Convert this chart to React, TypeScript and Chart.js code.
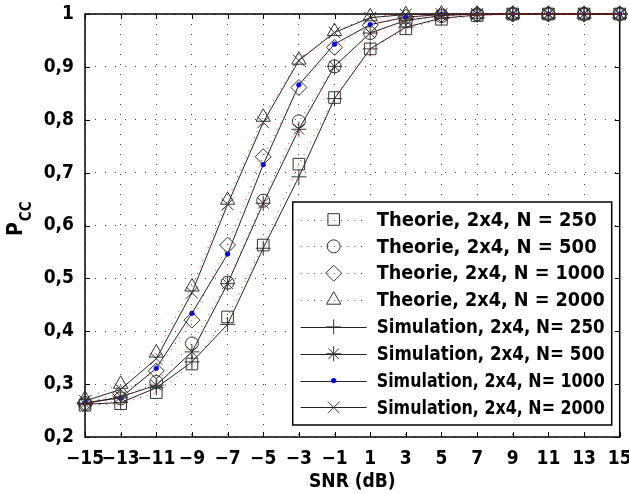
import React, { useEffect, useRef } from 'react';
import { Chart, registerables } from 'chart.js';
import { drawPoint } from 'chart.js/helpers';

Chart.register(...registerables);

// ---------------- data ----------------
const snrDb = [-15, -13, -11, -9, -7, -5, -3, -1, 1, 3, 5, 7, 9, 11, 13, 15];

const theorie250 = [0.260, 0.263, 0.284, 0.338, 0.427, 0.563, 0.716, 0.842, 0.934, 0.972, 0.990, 0.997, 1, 1, 1, 1];
const theorie500 = [0.262, 0.273, 0.304, 0.377, 0.492, 0.647, 0.797, 0.901, 0.964, 0.987, 0.996, 0.999, 1, 1, 1, 1];
const theorie1000 = [0.264, 0.282, 0.325, 0.421, 0.563, 0.730, 0.861, 0.937, 0.979, 0.994, 0.999, 1, 1, 1, 1, 1];
const theorie2000 = [0.272, 0.300, 0.359, 0.484, 0.648, 0.805, 0.913, 0.967, 0.995, 0.999, 1, 1, 1, 1, 1, 1];

const simulation250 = [0.262, 0.265, 0.293, 0.342, 0.413, 0.557, 0.692, 0.840, 0.934, 0.975, 0.992, 0.998, 1, 1, 1, 1];
const simulation500 = [0.263, 0.276, 0.298, 0.361, 0.490, 0.642, 0.782, 0.901, 0.964, 0.988, 0.997, 1, 1, 1, 1, 1];
const simulation1000 = [0.265, 0.274, 0.330, 0.434, 0.546, 0.715, 0.866, 0.943, 0.980, 0.994, 0.999, 1, 1, 1, 1, 1];
const simulation2000 = [0.268, 0.290, 0.348, 0.473, 0.640, 0.795, 0.912, 0.965, 0.993, 0.999, 1, 1, 1, 1, 1, 1];

const xTickValues = [-15, -13, -11, -9, -7, -5, -3, -1, 1, 3, 5, 7, 9, 11, 13, 15];
const yTickValues = [0.2, 0.3, 0.4, 0.5, 0.6, 0.7, 0.8, 0.9, 1];

const legendLabels = [
  'Theorie, 2x4, N = 250',
  'Theorie, 2x4, N = 500',
  'Theorie, 2x4, N = 1000',
  'Theorie, 2x4, N = 2000',
  'Simulation, 2x4, N= 250',
  'Simulation, 2x4, N= 500',
  'Simulation, 2x4, N= 1000',
  'Simulation, 2x4, N= 2000',
];

const xTitle = 'SNR (dB)';
const yTitleMain = 'P';
const yTitleSub = 'CC';

// ---------------- styles ----------------
const FONT = "'Liberation Sans Narrow', 'DejaVu Sans Condensed', 'Arial Narrow', 'Liberation Sans', sans-serif";
const MARK = '#333';

type Marker = { style: any; radius: number; fill: string; stroke: string };
const markers: Marker[] = [
  { style: 'rect', radius: 8.2, fill: 'rgba(0,0,0,0)', stroke: MARK },
  { style: 'circle', radius: 6.5, fill: 'rgba(0,0,0,0)', stroke: MARK },
  { style: 'rectRot', radius: 8, fill: 'rgba(0,0,0,0)', stroke: MARK },
  { style: 'triangle', radius: 8.3, fill: 'rgba(0,0,0,0)', stroke: MARK },
  { style: 'cross', radius: 7.5, fill: 'rgba(0,0,0,0)', stroke: MARK },
  { style: 'star', radius: 7.5, fill: 'rgba(0,0,0,0)', stroke: MARK },
  { style: 'circle', radius: 2.2, fill: '#0000ff', stroke: '#0000ff' },
  { style: 'crossRot', radius: 8.3, fill: 'rgba(0,0,0,0)', stroke: MARK },
];

const seriesValues = [
  theorie250, theorie500, theorie1000, theorie2000,
  simulation250, simulation500, simulation1000, simulation2000,
];

function isTheory(i: number) {
  return i < 4;
}

function fmtX(v: number) {
  return v < 0 ? '\u2212' + Math.abs(v) : String(v);
}
function fmtY(v: number) {
  const r = Math.round(v * 10) / 10;
  return r === 1 ? '1' : r.toFixed(1).replace('.', ',');
}

const decorPlugin = {
  id: 'decor',
  beforeDatasetsDraw(chart: any) {
    const { ctx, chartArea: a, scales } = chart;
    ctx.save();
    ctx.strokeStyle = '#000';
    ctx.lineWidth = 1.5;
    ctx.strokeRect(a.left, a.top, a.right - a.left, a.bottom - a.top);
    ctx.lineWidth = 1;
    ctx.beginPath();
    xTickValues.forEach((v) => {
      const p = Math.round(scales.x.getPixelForValue(v)) + 0.5;
      ctx.moveTo(p, a.bottom);
      ctx.lineTo(p, a.bottom - 5);
      ctx.moveTo(p, a.top);
      ctx.lineTo(p, a.top + 5);
    });
    yTickValues.forEach((v) => {
      const p = Math.round(scales.y.getPixelForValue(v)) + 0.5;
      ctx.moveTo(a.left, p);
      ctx.lineTo(a.left + 5, p);
      ctx.moveTo(a.right, p);
      ctx.lineTo(a.right - 5, p);
    });
    ctx.stroke();
    ctx.restore();
  },
  afterDatasetsDraw(chart: any) {
    const { ctx, chartArea: a } = chart;
    const boxW = 319;
    const boxH = 223;
    const bx = a.right - 8 - boxW;
    const by = a.bottom - 12 - boxH;
    ctx.save();
    ctx.fillStyle = '#fff';
    ctx.fillRect(bx, by, boxW, boxH);
    ctx.strokeStyle = '#000';
    ctx.lineWidth = 1.5;
    ctx.strokeRect(bx, by, boxW, boxH);
    const rowH = 26.85;
    const firstY = by + 17.5;
    const lineX0 = bx + 8;
    const lineX1 = bx + 74;
    const markX = bx + 41;
    const textX = bx + 84;
    legendLabels.forEach((label, i) => {
      const y = firstY + i * rowH;
      ctx.save();
      ctx.beginPath();
      if (isTheory(i)) {
        ctx.strokeStyle = '#555';
        ctx.setLineDash([1, 5.7]);
      } else {
        ctx.strokeStyle = '#222';
        ctx.setLineDash([]);
      }
      ctx.lineWidth = 1;
      ctx.moveTo(lineX0, Math.round(y) + 0.5);
      ctx.lineTo(lineX1, Math.round(y) + 0.5);
      ctx.stroke();
      ctx.setLineDash([]);
      const m = markers[i];
      ctx.fillStyle = m.fill;
      ctx.strokeStyle = m.stroke;
      ctx.lineWidth = 1;
      drawPoint(ctx, { pointStyle: m.style, rotation: 0, radius: m.radius, borderWidth: 1 } as any, markX, y);
      ctx.restore();
      ctx.fillStyle = '#000';
      ctx.font = 'bold 20px ' + FONT;
      ctx.textAlign = 'left';
      ctx.textBaseline = 'middle';
      ctx.fillText(label, textX, y + 1, 228);
    });
    ctx.restore();
  },
  afterDraw(chart: any) {
    const { ctx, chartArea: a } = chart;
    ctx.save();
    ctx.fillStyle = '#000';
    ctx.font = 'bold 19px ' + FONT;
    ctx.textAlign = 'center';
    ctx.textBaseline = 'alphabetic';
    ctx.fillText(xTitle, (a.left + a.right) / 2, 487);
    // y title
    ctx.translate(22, 236);
    ctx.rotate(-Math.PI / 2);
    ctx.textAlign = 'left';
    ctx.font = 'bold 21px ' + FONT;
    ctx.fillText(yTitleMain, 0, 0);
    const pw = ctx.measureText(yTitleMain).width;
    ctx.font = 'bold 15px ' + FONT;
    ctx.fillText(yTitleSub, pw + 1, 9);
    ctx.restore();
  },
};

export default function App() {
  const ref = useRef<HTMLCanvasElement>(null);
  useEffect(() => {
    const datasets = seriesValues.map((vals, i) => {
      const m = markers[i];
      const theory = isTheory(i);
      return {
        label: legendLabels[i],
        data: snrDb.map((x, k) => ({ x, y: vals[k] })),
        borderColor: theory ? 'rgba(255,0,0,0.9)' : '#222',
        borderWidth: 1,
        borderDash: theory ? [1, 6] : [],
        pointStyle: m.style,
        pointRadius: m.radius,
        pointHoverRadius: m.radius,
        pointBorderColor: m.stroke,
        pointBackgroundColor: m.fill,
        pointBorderWidth: 1,
        tension: 0,
        fill: false,
        clip: false as any,
      };
    });
    const chart = new Chart(ref.current as HTMLCanvasElement, {
      type: 'line',
      data: { datasets },
      options: {
        animation: false,
        responsive: false,
        devicePixelRatio: 1,
        layout: { padding: { top: 14, right: 9, left: 0, bottom: 0 } },
        plugins: { legend: { display: false }, tooltip: { enabled: false } },
        scales: {
          x: {
            type: 'linear',
            min: -15,
            max: 15,
            afterBuildTicks: (s: any) => {
              s.ticks = xTickValues.map((v) => ({ value: v }));
            },
            afterFit: (s: any) => {
              s.height = 57;
              s.paddingLeft = 0;
              s.paddingRight = 0;
              s.paddingTop = 0;
              s.paddingBottom = 0;
            },
            ticks: {
              autoSkip: false,
              maxRotation: 0,
              minRotation: 0,
              padding: 11,
              color: '#000',
              font: { family: FONT, size: 19, weight: 'bold' },
              callback: (v: any) => fmtX(Number(v)),
            },
            grid: { color: '#444', lineWidth: 1, drawTicks: false },
            border: { display: false, dash: [1, 9] },
          },
          y: {
            type: 'linear',
            min: 0.2,
            max: 1,
            afterBuildTicks: (s: any) => {
              s.ticks = yTickValues.map((v) => ({ value: v }));
            },
            afterFit: (s: any) => {
              s.width = 85;
              s.paddingLeft = 0;
              s.paddingRight = 0;
              s.paddingTop = 0;
              s.paddingBottom = 0;
            },
            ticks: {
              autoSkip: false,
              padding: 11,
              color: '#000',
              font: { family: FONT, size: 19, weight: 'bold' },
              callback: (v: any) => fmtY(Number(v)),
            },
            grid: { color: '#444', lineWidth: 1, drawTicks: false },
            border: { display: false, dash: [1, 9] },
          },
        },
      } as any,
      plugins: [decorPlugin],
    });
    return () => chart.destroy();
  }, []);
  return (
    <div style={{ position: 'absolute', left: 0, top: 0, width: 629, height: 494, background: '#fff' }}>
      <canvas ref={ref} width={629} height={494} style={{ display: 'block' }} />
    </div>
  );
}
